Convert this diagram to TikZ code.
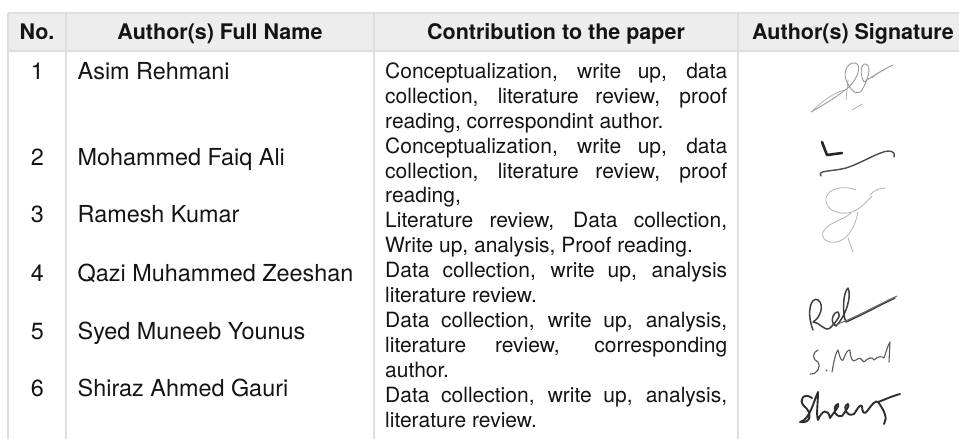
\documentclass[tikz,border=0pt]{standalone}
\usepackage{fontspec}
\setmainfont{TeX Gyre Heros}
\begin{document}
\begin{tikzpicture}[x=1pt,y=-1pt,
  grid/.style={draw=black!13,line width=1.2pt},
  hdr/.style={font=\fontsize{21.5}{24}\selectfont\bfseries,anchor=base,inner sep=0,text=black!92},
  num/.style={font=\fontsize{23.4}{25}\selectfont,anchor=base,inner sep=0,text=black!92},
  nm/.style={font=\fontsize{23.4}{25}\selectfont,anchor=base west,inner sep=0,text=black!92},
  ct/.style={font=\fontsize{21}{25}\selectfont,anchor=base west,inner sep=0,text=black!92},
  sig/.style={line cap=round,line join=round}]
\useasboundingbox (0,0) rectangle (959,439);
% header band and grid
\fill[black!7] (8,13) rectangle (959,51);
\draw[grid] (8,13) -- (959,13);
\draw[grid] (8,51) -- (959,51);
\draw[grid] (8,13) -- (8,439);
\draw[grid] (66,13) -- (66,439);
\draw[grid] (374,13) -- (374,439);
\draw[grid] (738,13) -- (738,439);
% header
\node[hdr] (h1) at (37,39) {No.};
\node[hdr] (h2) at (220,39) {Author(s) Full Name};
\node[hdr] (h3) at (556,39) {Contribution to the paper};
\node[hdr] (h4) at (853,39) {Author(s) Signature};
% numbers
\node[num] (n1) at (37.5,79) {1};
\node[num] (n2) at (37.5,165) {2};
\node[num] (n3) at (37.5,222) {3};
\node[num] (n4) at (37.5,281) {4};
\node[num] (n5) at (37.5,339) {5};
\node[num] (n6) at (37.5,396) {6};
% names
\node[nm] (a1) at (77.5,79) {Asim Rehmani};
\node[nm] (a2) at (77.5,165) {Mohammed Faiq Ali};
\node[nm] (a3) at (77.5,222) {Ramesh Kumar};
\node[nm] (a4) at (77.5,281) {Qazi Muhammed Zeeshan};
\node[nm] (a5) at (77.5,339) {Syed Muneeb Younus};
\node[nm] (a6) at (77.5,396) {Shiraz Ahmed Gauri};
% contributions
\node[ct] (c1) at (385,78) {\makebox[342pt][s]{Conceptualization, write up, data}};
\node[ct] (c2) at (385,103) {\makebox[342pt][s]{collection, literature review, proof}};
\node[ct] (c3) at (385,128) {reading, correspondint author.};
\node[ct] (c4) at (385,153) {\makebox[342pt][s]{Conceptualization, write up, data}};
\node[ct] (c5) at (385,178) {\makebox[342pt][s]{collection, literature review, proof}};
\node[ct] (c6) at (385,202) {reading,};
\node[ct] (c7) at (385,227) {\makebox[342pt][s]{Literature review, Data collection,}};
\node[ct] (c8) at (385,252) {Write up, analysis, Proof reading.};
\node[ct] (c9) at (385,277) {\makebox[342pt][s]{Data collection, write up, analysis}};
\node[ct] (c10) at (385,302) {literature review.};
\node[ct] (c11) at (385,327) {\makebox[342pt][s]{Data collection, write up, analysis,}};
\node[ct] (c12) at (385,352) {\makebox[342pt][s]{literature review, corresponding}};
\node[ct] (c13) at (385,377) {author.};
\node[ct] (c14) at (385,402) {\makebox[342pt][s]{Data collection, write up, analysis,}};
\node[ct] (c15) at (385,427) {literature review.};
% signatures (hand-drawn scribbles)
% 1
\draw[sig,black!40,line width=0.9pt] (811,112) .. controls (825,104) and (840,95) .. (850,86)
  .. controls (858,78) and (862,64) .. (855,63) .. controls (846,62) and (842,75) .. (848,84)
  .. controls (852,92) and (858,96) .. (862,90) .. controls (868,80) and (872,66) .. (866,64)
  .. controls (860,63) and (860,76) .. (864,82) .. controls (870,78) and (882,70) .. (893,65);
\draw[sig,black!35,line width=0.7pt] (813,110) .. controls (826,98) and (836,92) .. (845,90)
  (848,80) -- (846,100) (852,110) -- (862,104) (872,78) .. controls (876,74) and (880,72) .. (884,70);
% 2
\draw[sig,black!85,line width=2.6pt] (822,142) -- (827,155) -- (842,153);
\draw[sig,black!70,line width=1.4pt] (821,176) .. controls (817,170) and (830,172) .. (846,168)
  .. controls (862,163) and (878,152) .. (888,151) .. controls (894,151) and (895,154) .. (894,157);
% 3
\draw[sig,black!28,line width=0.9pt] (856,190) .. controls (845,185) and (828,188) .. (826,198)
  .. controls (824,210) and (840,216) .. (852,212) .. controls (862,208) and (868,200) .. (872,196)
  (852,212) .. controls (845,220) and (828,222) .. (823,232) .. controls (820,242) and (835,246) .. (845,238)
  .. controls (852,232) and (856,222) .. (858,212) (848,238) -- (853,252)
  (870,195) .. controls (874,190) and (880,188) .. (885,188);
% 4
\draw[sig,black!75,line width=1.5pt] (813,330) .. controls (806,312) and (811,296) .. (818,300)
  .. controls (825,305) and (820,318) .. (813,322) .. controls (820,322) and (824,332) .. (830,328)
  .. controls (836,322) and (842,315) .. (838,312) .. controls (832,312) and (830,324) .. (836,326)
  .. controls (846,316) and (852,296) .. (848,288) .. controls (843,292) and (842,314) .. (846,322)
  .. controls (862,315) and (880,305) .. (895,298);
\draw[sig,black!60,line width=1pt] (835,325) .. controls (855,318) and (875,306) .. (897,296);
% 5
\draw[sig,black!65,line width=1.1pt] (818,350) .. controls (812,352) and (812,360) .. (818,362)
  .. controls (822,366) and (816,376) .. (810,374) (826,370) -- (827,371)
  (832,372) .. controls (834,360) and (836,352) .. (838,350) .. controls (840,358) and (842,364) .. (844,358)
  .. controls (846,352) and (848,350) .. (850,350) .. controls (850,356) and (852,364) .. (856,360)
  .. controls (860,356) and (862,360) .. (864,362) .. controls (868,358) and (872,356) .. (874,360)
  .. controls (878,356) and (882,356) .. (884,358) .. controls (886,352) and (888,345) .. (890,342) -- (889,362);
% 6
\draw[sig,black!82,line width=1.9pt] (812,398) .. controls (804,392) and (798,400) .. (804,406)
  .. controls (812,412) and (812,424) .. (800,422) .. controls (810,420) and (814,400) .. (818,392)
  .. controls (818,404) and (816,414) .. (818,420) .. controls (822,410) and (828,408) .. (830,418)
  .. controls (834,412) and (840,406) .. (838,404) .. controls (832,406) and (834,418) .. (842,416)
  .. controls (846,410) and (850,406) .. (848,404) .. controls (842,406) and (846,418) .. (854,414)
  .. controls (858,408) and (860,404) .. (862,406) .. controls (862,412) and (864,416) .. (868,410)
  .. controls (872,404) and (876,400) .. (878,402) .. controls (884,400) and (892,396) .. (900,394)
  (878,402) .. controls (884,410) and (888,418) .. (884,424);
\end{tikzpicture}
\end{document}
